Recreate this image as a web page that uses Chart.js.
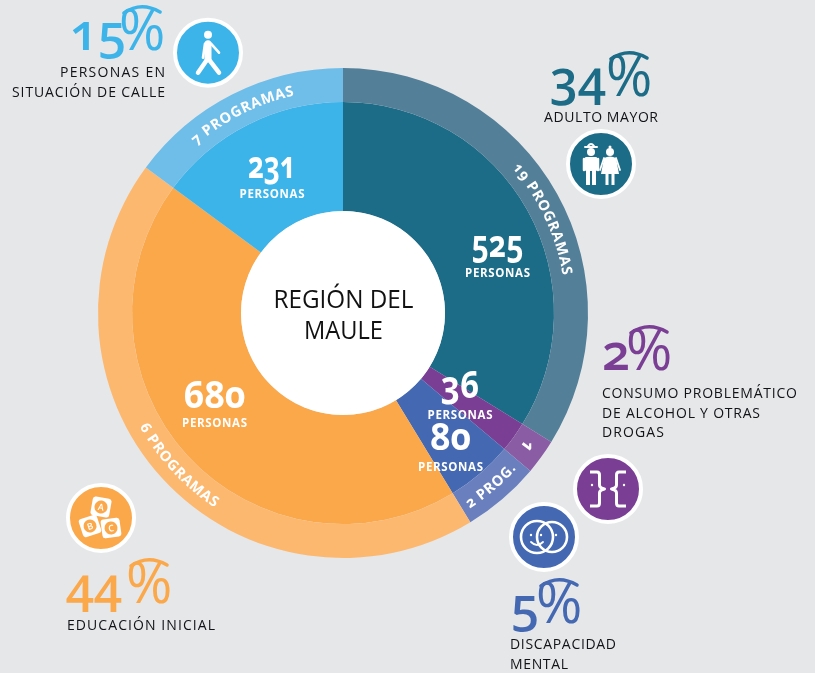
<!DOCTYPE html>
<html lang="es">
<head>
<meta charset="utf-8">
<title>Región del Maule</title>
<script src="https://cdn.jsdelivr.net/npm/chart.js@4/dist/chart.umd.min.js"></script>
<style>
html,body{margin:0;padding:0;background:#E6E7E9;width:815px;height:673px;overflow:hidden}
#wrap{position:relative;width:815px;height:673px}
canvas{position:absolute;left:0;top:0}
svg{position:absolute;left:0;top:0}
svg text{font-family:"Open Sans","Noto Sans",sans-serif;font-variant-numeric:oldstyle-nums;font-feature-settings:"onum" 1,"lnum" 0}
</style>
</head>
<body>
<div id="wrap"><canvas id="c" width="815" height="673"></canvas><svg id="ov" width="815" height="673" viewBox="0 0 815 673" xmlns="http://www.w3.org/2000/svg"></svg></div>
<script>
const categories = ["Adulto mayor","Consumo problemático","Discapacidad mental","Educación inicial","Personas en situación de calle"];
const personas = [525,36,80,680,231];
const programas = [19,1,2,6,7];
const porcentajes = [34,2,5,44,15];
const ringLabels = ["19 PROGRAMAS","1","2 PROG.","6 PROGRAMAS","7 PROGRAMAS"];
const innerColors = ["#1D6C87","#7A3E94","#4469B2","#FBA84B","#3DB4E9"];
const outerColors = ["#537F98","#8A5CA3","#6A7FBE","#FDB870","#6FBDE9"];
const centerLines = ["REGIÓN DEL","MAULE"];
const descLines = [["ADULTO MAYOR"],["CONSUMO PROBLEMÁTICO","DE ALCOHOL Y OTRAS","DROGAS"],["DISCAPACIDAD","MENTAL"],["EDUCACIÓN INICIAL"],["PERSONAS EN","SITUACIÓN DE CALLE"]];
const personasWord = "PERSONAS";

const NS = "http://www.w3.org/2000/svg";
const ov = document.getElementById("ov");
function el(tag, attrs, parent, text){
  const e = document.createElementNS(NS, tag);
  for(const k in attrs) e.setAttribute(k, attrs[k]);
  if(text !== undefined) e.textContent = text;
  (parent||ov).appendChild(e);
  return e;
}

const layout = {
  pct:[
    {x:550,y:96,px:606},
    {x:602,y:370,px:626},
    {x:511,y:623,px:536},
    {x:66,y:603,px:126},
    {x:70,y:50,px:119}
  ],
  desc:[
    {x:544,y:121.7,dy:20,w:[114]},
    {x:602,y:397.7,dy:19.8,w:[195,158,62]},
    {x:510,y:649,dy:20,w:[106,58]},
    {x:67,y:630,dy:20,w:[148]},
    {x:165,y:76.7,dy:20,w:[105,153],end:true}
  ],
  inner:[
    {x:497.5,y:257,wy:277.3,w:52},
    {x:460,y:398,wy:419,w:38},
    {x:450.5,y:450,wy:471,w:41},
    {x:214.5,y:408,wy:427,w:62},
    {x:272,y:178,wy:198,w:48}
  ],
  icon:[{x:601,y:164},{x:608,y:489},{x:544,y:537},{x:101,y:518},{x:208,y:52.7}],
  curve:[
    {shift:4,cw:true,size:14.5},{shift:0,cw:true,size:18,r:222},{shift:0,cw:false,size:14.5},{shift:-0.5,cw:false,size:14.5},{shift:0,cw:true,size:14.5}
  ]
};

function drawIcon(i){
  const p = layout.icon[i], col = innerColors[i];
  el("circle",{cx:p.x,cy:p.y,r:33,fill:col,stroke:"#fff","stroke-width":4});
  const g = el("g",{transform:`translate(${p.x} ${p.y})`,fill:"none",stroke:"#fff","stroke-linecap":"round","stroke-linejoin":"round"});
  if(i===4){
    el("circle",{cx:0,cy:-18,r:4,fill:"#fff",stroke:"none"},g);
    el("path",{d:"M0-9 L0 6",stroke:"#fff","stroke-width":7},g);
    el("path",{d:"M-3-9 L-5 5 M3-9 L11 0",stroke:"#fff","stroke-width":2.6},g);
    el("path",{d:"M-1 7 L-10 20 M1 7 L11 20",stroke:"#fff","stroke-width":4.5},g);
  } else if(i===0){
    el("circle",{cx:-10,cy:-12,r:4,fill:"#fff",stroke:"none"},g);
    el("path",{d:"M-16-17 h12 M-13-18 q3-4 6 0",stroke:"#fff","stroke-width":2},g);
    el("path",{d:"M-15-6 h10 v12 h-10z",fill:"#fff","stroke-width":2},g);
    el("path",{d:"M-17-5 v11 M-3-5 v11",stroke:"#fff","stroke-width":2.5},g);
    el("path",{d:"M-13 6 v15 M-7 6 v15",stroke:"#fff","stroke-width":4,"stroke-linecap":"butt"},g);
    el("circle",{cx:9,cy:-12,r:4,fill:"#fff",stroke:"none"},g);
    el("circle",{cx:9,cy:-17,r:1.5,fill:"#fff",stroke:"none"},g);
    el("path",{d:"M3-6 q6-3 12 0 l3 16 h-18z",fill:"#fff",stroke:"none"},g);
    el("path",{d:"M3-6 l-4 12 M15-6 l4 12",stroke:"#fff","stroke-width":1.8},g);
    el("path",{d:"M6 10 v11 M12 10 v11",stroke:"#fff","stroke-width":3,"stroke-linecap":"butt"},g);
  } else if(i===1){
    const b = "M-18-17 h7 q2.5 0 2.5 3 v10 q0 3 5 4 q-5 1 -5 4 v10 q0 3 -2.5 3 h-7";
    el("path",{d:b,stroke:"#fff","stroke-width":3,"stroke-linecap":"butt"},g);
    el("path",{d:b,transform:"scale(-1 1)",stroke:"#fff","stroke-width":3,"stroke-linecap":"butt"},g);
    el("circle",{cx:-16,cy:-4,r:1.2,fill:"#fff",stroke:"none"},g);
    el("circle",{cx:16,cy:-4,r:1.2,fill:"#fff",stroke:"none"},g);
  } else if(i===2){
    el("circle",{cx:-7,cy:0,r:16,stroke:"#fff","stroke-width":2.6},g);
    el("circle",{cx:8,cy:0,r:15,stroke:"#fff","stroke-width":2.6},g);
    el("path",{d:"M-13 5 q6 6 12 0",stroke:"#fff","stroke-width":1.8},g);
    for(const d of [-13,-3,12]) el("circle",{cx:d,cy:-2,r:1.2,fill:"#fff",stroke:"none"},g);
  } else {
    const blocks=[["A",0,-11,10],["B",-11,8,-18],["C",10,10,-8]];
    for(const [t,x,y,a] of blocks){
      const b=el("g",{transform:`translate(${x} ${y}) rotate(${a})`},g);
      el("rect",{x:-9.5,y:-9.5,width:19,height:19,rx:3,fill:"#fff",stroke:"none"},b);
      el("circle",{cx:0,cy:0,r:6.5,fill:col,stroke:"none"},b);
      el("text",{x:0,y:3.4,"text-anchor":"middle","font-size":9,"font-weight":600,fill:"#fff",stroke:"none"},b,t);
    }
  }
}

function drawStatic(){
  innerColors.forEach((col,i)=>{
    const p = layout.pct[i];
    const t = el("text",{x:p.x,y:p.y,"font-size":50,"font-weight":600,fill:col});
    t.textContent = porcentajes[i];
    el("tspan",{x:p.px,y:p.y,"font-size":56,"font-weight":500},t,"%");
    const x0=p.px, y0=p.y-43;
    el("path",{d:`M${x0+5} ${y0+6} Q${x0+22} ${y0-6} ${x0+41} ${y0+5}`,fill:"none",stroke:col,"stroke-width":3.5,"stroke-linecap":"round"});
    const d = layout.desc[i];
    descLines[i].forEach((ln,j)=>{
      el("text",{x:d.x,y:d.y+j*d.dy,"font-size":14,"font-weight":500,fill:"#111317","text-anchor":d.end?"end":"start",textLength:d.w[j],lengthAdjust:"spacing"},ov,ln);
    });
    const n = layout.inner[i];
    el("text",{x:n.x,y:n.y,"font-size":37,"font-weight":700,fill:"#fff","text-anchor":"middle",textLength:n.w,lengthAdjust:"spacingAndGlyphs"},ov,personas[i]);
    el("text",{x:n.x,y:n.wy,"font-size":11.5,"font-weight":700,fill:"#fff","text-anchor":"middle",textLength:65,lengthAdjust:"spacing"},ov,personasWord);
    drawIcon(i);
  });
}

function arcPath(cx,cy,r,a0,a1){
  const x0=cx+r*Math.cos(a0), y0=cy+r*Math.sin(a0), x1=cx+r*Math.cos(a1), y1=cy+r*Math.sin(a1);
  const sweep = a1>a0?1:0;
  return `M${x0} ${y0} A${r} ${r} 0 0 ${sweep} ${x1} ${y1}`;
}

let overlayDone=false;
const overlayPlugin = {
  id:"overlay",
  afterDatasetsDraw(chart){
    const arcs = chart.getDatasetMeta(0).data;
    const inner = chart.getDatasetMeta(1).data[0];
    const ctx = chart.ctx;
    ctx.save();
    ctx.fillStyle="#fff";
    ctx.beginPath();
    ctx.arc(inner.x,inner.y,inner.innerRadius,0,Math.PI*2);
    ctx.fill();
    ctx.restore();
    if(overlayDone) return;
    overlayDone=true;
    const defs = el("defs",{});
    arcs.forEach((a,i)=>{
      const c = layout.curve[i];
      const mid = (a.startAngle+a.endAngle)/2 + c.shift*Math.PI/180;
      const span = 1.0;
      const r = c.r || (c.cw ? a.innerRadius+12 : a.outerRadius-12);
      const d = c.cw ? arcPath(a.x,a.y,r,mid-span,mid+span) : arcPath(a.x,a.y,r,mid+span,mid-span);
      el("path",{id:"rp"+i,d},defs);
      const t = el("text",{"font-size":c.size,"font-weight":700,fill:"#fff","text-anchor":"middle","letter-spacing":0.7});
      el("textPath",{href:"#rp"+i,startOffset:"50%"},t,ringLabels[i]);
    });
    const centerW = [140,79];
    centerLines.forEach((ln,j)=>{
      el("text",{x:inner.x+0.5,y:307.7+j*31.3,"font-size":25,"text-anchor":"middle",fill:"#111",textLength:centerW[j],lengthAdjust:"spacingAndGlyphs"},ov,ln);
    });
    drawStatic();
  }
};

new Chart(document.getElementById("c"),{
  type:"doughnut",
  data:{
    labels:categories,
    datasets:[
      {label:"Programas",data:personas,backgroundColor:outerColors,borderWidth:0,weight:34},
      {label:"Personas",data:personas,backgroundColor:innerColors,borderWidth:0,weight:109}
    ]
  },
  options:{
    responsive:false,
    animation:false,
    cutout:102,
    rotation:0,
    layout:{padding:{left:98,right:227,top:68,bottom:115}},
    plugins:{legend:{display:false},tooltip:{enabled:false}}
  },
  plugins:[overlayPlugin]
});
</script>
</body>
</html>
